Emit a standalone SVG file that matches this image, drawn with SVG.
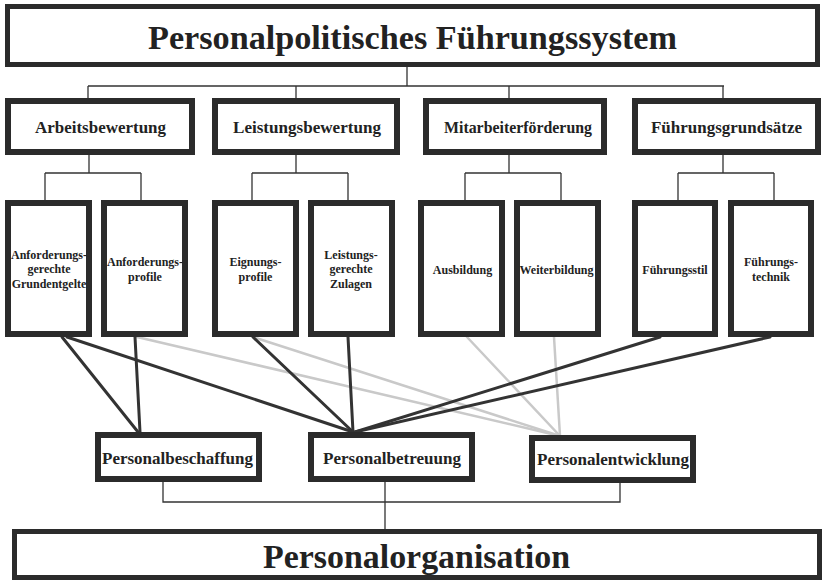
<svg xmlns="http://www.w3.org/2000/svg" width="824" height="582" viewBox="0 0 824 582">
<style>
  .box { fill: #ffffff; stroke: #2b2b2b; stroke-width: 6; }
  .big { fill: #ffffff; stroke: #2b2b2b; stroke-width: 5; }
  .t { font-family: "Liberation Serif", "Times New Roman", serif; font-weight: bold; fill: #222222; text-anchor: middle; }
  .title { font-size: 34px; }
  .mid { font-size: 17px; }
  .leaf { font-size: 12px; }
  .tree { fill: none; stroke: #333333; stroke-width: 1.3; }
  .dark { stroke: #333333; stroke-width: 3; stroke-linecap: round; }
  .light { stroke: #c9c9c9; stroke-width: 2.5; stroke-linecap: round; }
</style>
<rect x="0" y="0" width="824" height="582" fill="#ffffff"/>

<g id="connectors">
  <path class="tree" d="M407 67 V86 M88 86 H724 M88 86 V98 M296 86 V98 M509 86 V98 M723 86 V98"/>
  <path class="tree" d="M89 155 V173 M45 173 H141 M45 173 V200 M141 173 V200"/>
  <path class="tree" d="M296 155 V173 M252 173 H348 M252 173 V200 M348 173 V200"/>
  <path class="tree" d="M509 155 V173 M465 173 H561 M465 173 V200 M561 173 V200"/>
  <path class="tree" d="M723 155 V173 M678 173 H774 M678 173 V200 M774 173 V200"/>
  <path class="tree" d="M163 482 V502 H620 V483 M385 482 V529"/>
  <line class="light" x1="137" y1="337" x2="560" y2="436"/>
  <line class="light" x1="253" y1="337" x2="560" y2="436"/>
  <line class="light" x1="467" y1="337" x2="560" y2="436"/>
  <line class="light" x1="554" y1="337" x2="560" y2="436"/>
  <line class="dark" x1="62" y1="337" x2="138" y2="432"/>
  <line class="dark" x1="67" y1="337" x2="353" y2="432"/>
  <line class="dark" x1="135" y1="337" x2="140" y2="432"/>
  <line class="dark" x1="253" y1="337" x2="353" y2="432"/>
  <line class="dark" x1="348" y1="337" x2="353" y2="432"/>
  <line class="dark" x1="660" y1="337" x2="355" y2="432"/>
  <line class="dark" x1="770" y1="337" x2="355" y2="432"/>
</g>

<g id="fuehrungssystem">
  <rect class="big" x="7.5" y="6.5" width="810" height="58"/>
  <text class="t title" x="412.5" y="49" textLength="529" lengthAdjust="spacingAndGlyphs">Personalpolitisches Führungssystem</text>
</g>

<g id="arbeitsbewertung">
  <rect class="box" x="8" y="101" width="184" height="51"/>
  <text class="t mid" x="100.5" y="133" textLength="131" lengthAdjust="spacingAndGlyphs">Arbeitsbewertung</text>
</g>
<g id="leistungsbewertung">
  <rect class="box" x="215" y="101" width="182" height="51"/>
  <text class="t mid" x="307" y="133" textLength="148" lengthAdjust="spacingAndGlyphs">Leistungsbewertung</text>
</g>
<g id="mitarbeiterfoerderung">
  <rect class="box" x="426" y="101" width="178" height="51"/>
  <text class="t mid" x="518" y="133" textLength="148" lengthAdjust="spacingAndGlyphs">Mitarbeiterförderung</text>
</g>
<g id="fuehrungsgrundsaetze">
  <rect class="box" x="635" y="101" width="183" height="51"/>
  <text class="t mid" x="726.5" y="133" textLength="151" lengthAdjust="spacingAndGlyphs">Führungsgrundsätze</text>
</g>

<g id="grundentgelte">
  <rect class="box" x="8" y="203" width="81" height="131"/>
  <text class="t leaf" x="49" y="259">Anforderungs-</text>
  <text class="t leaf" x="49" y="273">gerechte</text>
  <text class="t leaf" x="49" y="288">Grundentgelte</text>
</g>
<g id="anforderungsprofile">
  <rect class="box" x="104" y="203" width="81" height="131"/>
  <text class="t leaf" x="145" y="266">Anforderungs-</text>
  <text class="t leaf" x="145" y="281">profile</text>
</g>
<g id="eignungsprofile">
  <rect class="box" x="215" y="203" width="81" height="131"/>
  <text class="t leaf" x="255.5" y="266">Eignungs-</text>
  <text class="t leaf" x="255.5" y="281">profile</text>
</g>
<g id="zulagen">
  <rect class="box" x="311" y="203" width="81" height="131"/>
  <text class="t leaf" x="351" y="259">Leistungs-</text>
  <text class="t leaf" x="351" y="273">gerechte</text>
  <text class="t leaf" x="351" y="288">Zulagen</text>
</g>
<g id="ausbildung">
  <rect class="box" x="421" y="203" width="81" height="131"/>
  <text class="t leaf" x="462.5" y="274">Ausbildung</text>
</g>
<g id="weiterbildung">
  <rect class="box" x="517" y="203" width="81" height="131"/>
  <text class="t leaf" x="556.5" y="274">Weiterbildung</text>
</g>
<g id="fuehrungsstil">
  <rect class="box" x="635" y="203" width="80" height="131"/>
  <text class="t leaf" x="675" y="274">Führungsstil</text>
</g>
<g id="fuehrungstechnik">
  <rect class="box" x="731" y="203" width="80" height="131"/>
  <text class="t leaf" x="771" y="266">Führungs-</text>
  <text class="t leaf" x="771" y="281">technik</text>
</g>

<g id="personalbeschaffung">
  <rect class="box" x="98" y="435" width="161" height="44"/>
  <text class="t mid" x="177.5" y="464" textLength="151" lengthAdjust="spacingAndGlyphs">Personalbeschaffung</text>
</g>
<g id="personalbetreuung">
  <rect class="box" x="311" y="435" width="161" height="44"/>
  <text class="t mid" x="392" y="464" textLength="138" lengthAdjust="spacingAndGlyphs">Personalbetreuung</text>
</g>
<g id="personalentwicklung">
  <rect class="box" x="532" y="438" width="161" height="42"/>
  <text class="t mid" x="613" y="465" textLength="152" lengthAdjust="spacingAndGlyphs">Personalentwicklung</text>
</g>

<g id="personalorganisation">
  <rect class="big" x="14.5" y="531.5" width="805" height="46"/>
  <text class="t title" x="416.5" y="568" textLength="307" lengthAdjust="spacingAndGlyphs">Personalorganisation</text>
</g>
</svg>
